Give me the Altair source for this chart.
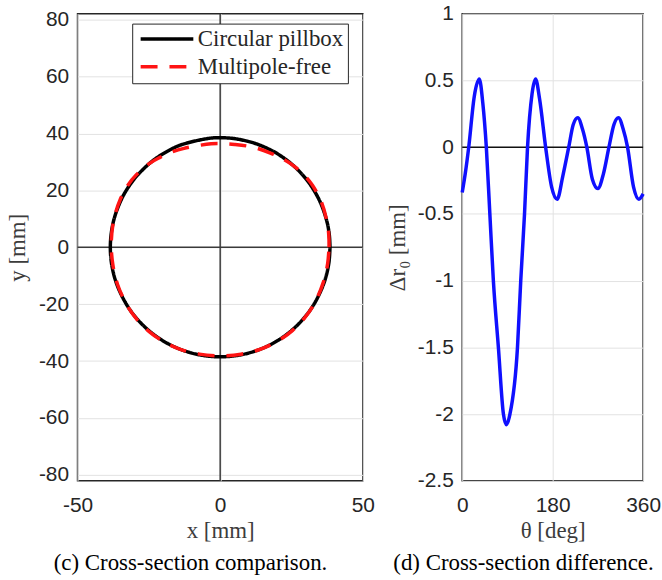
import altair as alt
import pandas as pd

# ---- data ----
theta_deg = [0, 6, 13, 24, 34, 41, 48, 55, 62, 72, 82, 88, 95, 110, 116.5, 124, 130,
             139, 146, 154, 166, 178, 189, 200, 212, 221, 230, 239, 248, 259, 270,
             281, 292, 302, 311, 320, 329, 341, 351.5, 360]
delta_r = [-0.34, -0.2, 0.0, 0.38, 0.51, 0.33, 0.0, -0.5, -1.0, -1.5, -2.0, -2.08, -2.0,
           -1.5, -1.0, -0.5, 0.0, 0.4, 0.51, 0.36, 0.0, -0.3, -0.39, -0.22, 0.0, 0.17,
           0.22, 0.14, 0.0, -0.24, -0.31, -0.2, 0.0, 0.17, 0.22, 0.14, 0.0, -0.3,
           -0.39, -0.35]
pillbox_radius = 38.5

series_names = ["Circular pillbox", "Multipole-free"]
series_colors = ["#000000", "#ff1414"]
series_dashes = [[1, 0], [17, 12]]

left_x_ticks = [-50, 0, 50]
left_y_ticks = [-80, -60, -40, -20, 0, 20, 40, 60, 80]
right_x_ticks = [0, 180, 360]
right_y_ticks = [-2.5, -2, -1.5, -1, -0.5, 0, 0.5, 1]

captions = ["(c) Cross-section comparison.", "(d) Cross-section difference."]

df = pd.DataFrame({"theta": theta_deg, "dr": delta_r})
zero = pd.DataFrame({"z": [0]})

SERIF = "Liberation Serif"
SANS = "Liberation Sans"

# ---- left panel ----
xs_l = alt.Scale(domain=[-50, 50], nice=False, zero=False)
ys_l = alt.Scale(domain=[-82.1, 82.1], nice=False, zero=False)
ax_x_l = alt.Axis(values=left_x_ticks, title="x [mm]")
ax_y_l = alt.Axis(values=left_y_ticks, title="y [mm]", titlePadding=9)

legend = alt.Legend(
    title=None, orient="none", legendX=55, legendY=10,
    symbolType="M-1.4,0H9.2", symbolSize=100, symbolStrokeWidth=3.5,
    labelFont=SERIF, labelFontSize=23, labelColor="#262626", labelOffset=39,
    labelLimit=400, strokeColor="#262626", fillColor="white", padding=4,
    rowPadding=4, cornerRadius=0,
)
color = alt.Color("series:N", scale=alt.Scale(domain=series_names, range=series_colors),
                  legend=legend)
dash = alt.StrokeDash("series:N", scale=alt.Scale(domain=series_names, range=series_dashes),
                      legend=legend)

base = (
    alt.Chart(df)
    .transform_calculate(r_black=f"{pillbox_radius}", r_red=f"{pillbox_radius} + datum.dr")
    .transform_fold(["r_black", "r_red"], as_=["key", "r"])
    .transform_calculate(
        series=f"datum.key == 'r_black' ? '{series_names[0]}' : '{series_names[1]}'",
        px="datum.r * cos(datum.theta * PI / 180)",
        py="datum.r * sin(datum.theta * PI / 180)",
    )
)

def circle_layer(name):
    return (
        base.transform_filter(alt.datum.series == name)
        .mark_line(strokeWidth=3.5, interpolate="catmull-rom", strokeCap="butt")
        .encode(
            x=alt.X("px:Q", scale=xs_l, axis=ax_x_l),
            y=alt.Y("py:Q", scale=ys_l, axis=ax_y_l),
            order=alt.Order("theta:Q"),
            color=color,
            strokeDash=dash,
        )
    )

vrule = alt.Chart(zero).mark_rule(color="#3a3a3a", strokeWidth=1.5).encode(
    x=alt.X("z:Q", scale=xs_l, axis=ax_x_l))
hrule = alt.Chart(zero).mark_rule(color="#3a3a3a", strokeWidth=1.5).encode(
    y=alt.Y("z:Q", scale=ys_l, axis=ax_y_l))

left = alt.layer(vrule, hrule, circle_layer(series_names[0]), circle_layer(series_names[1])).properties(
    width=287, height=470,
    title=alt.TitleParams(captions[0], orient="bottom", anchor="middle", frame="bounds",
                          font=SERIF, fontSize=23, fontWeight="normal", color="black", offset=10),
)

# ---- right panel ----
xs_r = alt.Scale(domain=[0, 360], nice=False, zero=False)
ys_r = alt.Scale(domain=[-2.5, 1], nice=False, zero=False)
ax_x_r = alt.Axis(values=right_x_ticks, title="θ [deg]")
ax_y_r = alt.Axis(values=right_y_ticks, title="Δr₀ [mm]", titlePadding=8)

r_rule = alt.Chart(zero).mark_rule(color="#111111", strokeWidth=1.5).encode(
    y=alt.Y("z:Q", scale=ys_r, axis=ax_y_r))
r_line = alt.Chart(df).mark_line(color="#1010ff", strokeWidth=3.5, interpolate="monotone").encode(
    x=alt.X("theta:Q", scale=xs_r, axis=ax_x_r),
    y=alt.Y("dr:Q", scale=ys_r, axis=ax_y_r),
)
right = alt.layer(r_rule, r_line).properties(
    width=182, height=470,
    title=alt.TitleParams(captions[1], orient="bottom", anchor="middle", frame="bounds",
                          font=SERIF, fontSize=23, fontWeight="normal", color="black", offset=10),
)

chart = (
    alt.hconcat(left, right, spacing=100, bounds="flush")
    .properties(padding={"left": 5, "top": 0, "right": 0, "bottom": 0})
    .configure_view(stroke="#262626", strokeWidth=1.5)
    .configure_axis(
        labelFont=SANS, labelFontSize=21, labelColor="#262626",
        labelExpr="toString(datum.value)", labelFlush=False,
        titleFont=SERIF, titleFontSize=23, titleFontWeight="normal", titleColor="#3c3c3c",
        domain=False, ticks=False, grid=True,
        gridColor="#e2e2e2", gridWidth=1,
    )
    .configure_axisX(labelPadding=14, titlePadding=4)
    .configure_axisY(labelPadding=9)
)

chart.save("out.html", embed_options={"renderer": "svg", "actions": False})
